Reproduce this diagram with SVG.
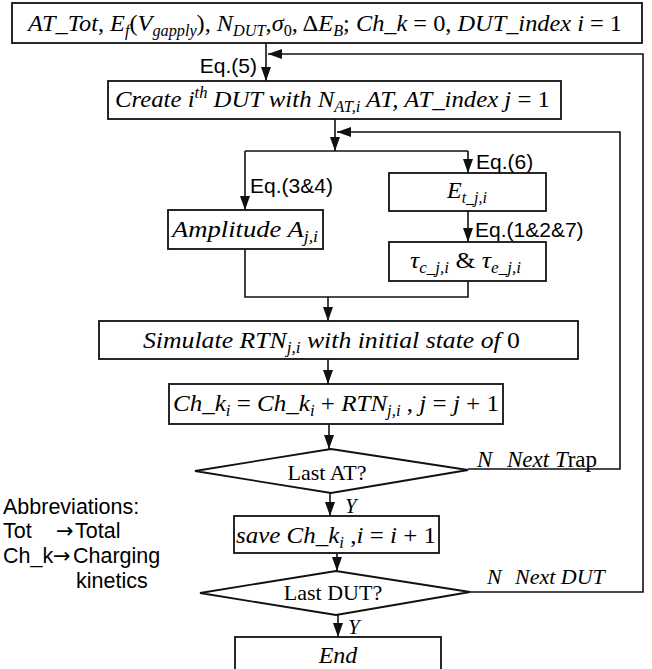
<svg xmlns="http://www.w3.org/2000/svg" width="652" height="669" viewBox="0 0 652 669">
<style>
.box{fill:#fff;stroke:#111;stroke-width:1.8}
.ln{fill:none;stroke:#111;stroke-width:1.6}
.arr{marker-end:url(#ah)}
.m{font-family:"Liberation Serif","DejaVu Serif",serif;font-size:24px;fill:#000}
.i{font-style:italic}
.s{font-size:16px}
.l{font-family:"Liberation Sans",Arial,sans-serif;font-size:21px;fill:#000}
.a{font-family:"Liberation Sans",Arial,sans-serif;font-size:21.5px;fill:#000}
.arw{font-family:"DejaVu Sans",sans-serif;font-size:21px}
</style>
<defs>
<marker id="ah" viewBox="0 0 14 10" refX="14" refY="5" markerWidth="14" markerHeight="10" markerUnits="userSpaceOnUse" orient="auto"><path d="M0,0 L14,5 L0,10 z" fill="#111"/></marker>
</defs>

<g id="connectors">
<path class="ln arr" d="M266,43 V81"/>
<path class="ln arr" d="M470,592 H643 V54 H268"/>
<path class="ln arr" d="M335,119 V151"/>
<path class="ln arr" d="M468,469 H620 V132 H337"/>
<path class="ln" d="M245,151 H468"/>
<path class="ln arr" d="M245,151 V210"/>
<path class="ln arr" d="M468,151 V173"/>
<path class="ln arr" d="M468,211 V242"/>
<path class="ln" d="M245,249 V297 H468 V281"/>
<path class="ln arr" d="M328,297 V321"/>
<path class="ln arr" d="M328,359 V384"/>
<path class="ln arr" d="M329,424 V449"/>
<path class="ln arr" d="M330,493 V516"/>
<path class="ln arr" d="M337,553 V571"/>
<path class="ln arr" d="M338,615 V637"/>
<text class="l" x="257" y="73" text-anchor="end">Eq.(5)</text>
<text class="l" x="250" y="193">Eq.(3&amp;4)</text>
<text class="l" x="476" y="169">Eq.(6)</text>
<text class="l" x="475" y="237">Eq.(1&amp;2&amp;7)</text>
<text class="m i" x="345" y="513" style="font-size:21px">Y</text>
<text class="m i" x="348" y="634" style="font-size:21px">Y</text>
<text class="m" y="467" style="font-size:23px"><tspan class="i" x="477">N</tspan><tspan class="i" x="507">Next T</tspan><tspan>rap</tspan></text>
<text class="m i" y="584" style="font-size:22px"><tspan x="487">N</tspan><tspan x="515">Next DUT</tspan></text>
</g>

<g id="start">
<rect class="box" x="12" y="3" width="630" height="40"/>
<text class="m" x="28" y="31" textLength="594" lengthAdjust="spacingAndGlyphs"><tspan class="i">AT_Tot</tspan>, <tspan class="i">E</tspan><tspan class="i s" dy="5">f</tspan><tspan dy="-5">(</tspan><tspan class="i">V</tspan><tspan class="i s" dy="5">gapply</tspan><tspan dy="-5">), </tspan><tspan class="i">N</tspan><tspan class="i s" dy="5">DUT</tspan><tspan dy="-5">,</tspan><tspan class="i">σ</tspan><tspan class="s" dy="5">0</tspan><tspan dy="-5">, Δ</tspan><tspan class="i">E</tspan><tspan class="i s" dy="5">B</tspan><tspan dy="-5">; </tspan><tspan class="i">Ch_k</tspan> = 0, <tspan class="i">DUT_index i</tspan> = 1</text>
</g>

<g id="create">
<rect class="box" x="108" y="81" width="453" height="38"/>
<text class="m" x="115" y="107" textLength="435" lengthAdjust="spacingAndGlyphs"><tspan class="i">Create i</tspan><tspan class="i s" dy="-9">th</tspan><tspan class="i" dy="9"> DUT with N</tspan><tspan class="i s" dy="5">AT,i</tspan><tspan class="i" dy="-5"> AT, AT_index j</tspan> = 1</text>
</g>

<g id="amplitude">
<rect class="box" x="168" y="210" width="155" height="39"/>
<text class="m" x="172" y="237" textLength="146" lengthAdjust="spacingAndGlyphs"><tspan class="i">Amplitude A</tspan><tspan class="i s" dy="5">j,i</tspan></text>
</g>

<g id="energy">
<rect class="box" x="389" y="173" width="157" height="38"/>
<text class="m" x="447" y="198" textLength="40" lengthAdjust="spacingAndGlyphs"><tspan class="i">E</tspan><tspan class="i s" dy="5">t_j,i</tspan></text>
</g>

<g id="tau">
<rect class="box" x="389" y="242" width="157" height="39"/>
<text class="m" x="410" y="268" textLength="111" lengthAdjust="spacingAndGlyphs"><tspan class="i">τ</tspan><tspan class="i s" dy="5">c_j,i</tspan><tspan dy="-5"> &amp; </tspan><tspan class="i">τ</tspan><tspan class="i s" dy="5">e_j,i</tspan></text>
</g>

<g id="simulate">
<rect class="box" x="99" y="321" width="479" height="38"/>
<text class="m" x="143" y="348" textLength="377" lengthAdjust="spacingAndGlyphs"><tspan class="i">Simulate RTN</tspan><tspan class="i s" dy="5">j,i</tspan><tspan class="i" dy="-5"> with initial state of </tspan>0</text>
</g>

<g id="accumulate">
<rect class="box" x="169" y="384" width="334" height="40"/>
<text class="m" x="173" y="411" textLength="326" lengthAdjust="spacingAndGlyphs"><tspan class="i">Ch_k</tspan><tspan class="i s" dy="5">i</tspan><tspan dy="-5"> = </tspan><tspan class="i">Ch_k</tspan><tspan class="i s" dy="5">i</tspan><tspan dy="-5"> + </tspan><tspan class="i">RTN</tspan><tspan class="i s" dy="5">j,i</tspan><tspan dy="-5"> ,  </tspan><tspan class="i">j</tspan> = <tspan class="i">j</tspan> + 1</text>
</g>

<g id="lastAT">
<polygon class="box" points="195,471 331,449 468,470 331,493"/>
<text class="m" x="327" y="480" text-anchor="middle" style="font-size:22px">Last AT?</text>
</g>

<g id="save">
<rect class="box" x="234" y="516" width="205" height="37"/>
<text class="m" x="236" y="543" textLength="200" lengthAdjust="spacingAndGlyphs"><tspan class="i">save Ch_k</tspan><tspan class="i s" dy="5">i</tspan><tspan dy="-5"> ,</tspan><tspan class="i">i</tspan> = <tspan class="i">i</tspan> + 1</text>
</g>

<g id="lastDUT">
<polygon class="box" points="200,593 336,571 470,592 336,615"/>
<text class="m" x="333" y="600" text-anchor="middle" style="font-size:22px">Last DUT?</text>
</g>

<g id="end">
<rect class="box" x="235" y="637" width="206" height="45"/>
<text class="m i" x="338" y="663" text-anchor="middle">End</text>
</g>

<g id="abbreviations">
<text class="a" x="3" y="514">Abbreviations:</text>
<text class="a" y="538"><tspan x="3">Tot</tspan><tspan class="arw" x="56">→</tspan><tspan x="75">Total</tspan></text>
<text class="a" y="563"><tspan x="3">Ch_k</tspan><tspan class="arw" x="53">→</tspan><tspan x="73">Charging</tspan></text>
<text class="a" x="76" y="588">kinetics</text>
</g>
</svg>
